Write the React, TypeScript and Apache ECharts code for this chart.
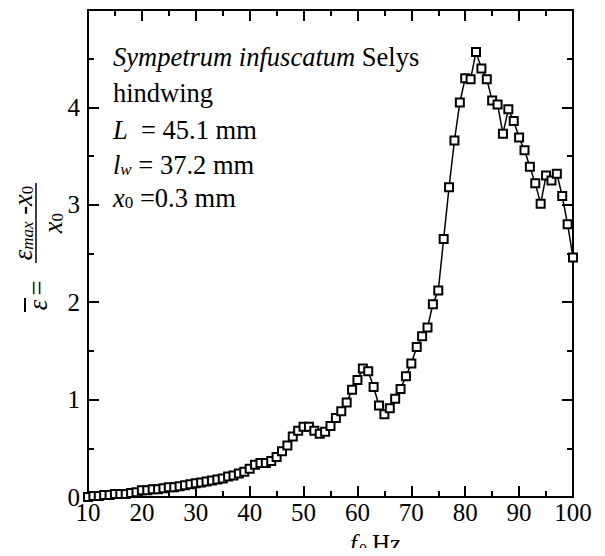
import React, { useEffect, useRef } from "react";
import * as echarts from "echarts";

const freqHz = [
  10, 11, 12, 13, 14, 15, 16, 17, 18, 19,
  20, 21, 22, 23, 24, 25, 26, 27, 28, 29,
  30, 31, 32, 33, 34, 35, 36, 37, 38, 39,
  40, 41, 42, 43, 44, 45, 46, 47, 48, 49,
  50, 51, 52, 53, 54, 55, 56, 57, 58, 59,
  60, 61, 62, 63, 64, 65, 66, 67, 68, 69,
  70, 71, 72, 73, 74, 75, 76, 77, 78, 79,
  80, 81, 82, 83, 84, 85, 86, 87, 88, 89,
  90, 91, 92, 93, 94, 95, 96, 97, 98, 99,
  100,
];

const epsBar = [
  0.0, 0.01, 0.01, 0.02, 0.02, 0.03, 0.03, 0.03, 0.04, 0.05,
  0.07, 0.07, 0.08, 0.08, 0.09, 0.1, 0.1, 0.11, 0.12, 0.13,
  0.14, 0.15, 0.16, 0.17, 0.18, 0.19, 0.21, 0.22, 0.24, 0.26,
  0.29, 0.33, 0.35, 0.35, 0.37, 0.41, 0.47, 0.53, 0.62, 0.68,
  0.72, 0.72, 0.68, 0.65, 0.67, 0.73, 0.81, 0.88, 0.97, 1.1,
  1.2, 1.32, 1.29, 1.13, 0.94, 0.85, 0.91, 1.01, 1.11, 1.24,
  1.37, 1.54, 1.65, 1.74, 1.98, 2.12, 2.65, 3.18, 3.66, 4.05,
  4.3, 4.29, 4.57, 4.4, 4.29, 4.07, 4.03, 3.73, 3.98, 3.86,
  3.69, 3.56, 3.39, 3.22, 3.01, 3.3, 3.25, 3.32, 3.09, 2.8,
  2.46,
];

const xTickLabels = ["10", "20", "30", "40", "50", "60", "70", "80", "90", "100"];
const yTickLabels = ["0", "1", "2", "3", "4"];

const FONT = "Liberation Serif";

export default function App() {
  const ref = useRef<HTMLDivElement>(null);

  useEffect(() => {
    if (!ref.current) return;
    const chart = echarts.init(ref.current, undefined, { renderer: "svg" });

    const data = freqHz.map((f, i) => [f, epsBar[i]]);

    const baseText = { fontFamily: FONT, fontSize: 26.5, fill: "#000" };
    const rich = {
      i: { fontFamily: FONT, fontSize: 26.5, fontStyle: "italic", lineHeight: 30, verticalAlign: "bottom" },
      n: { fontFamily: FONT, fontSize: 26.5, lineHeight: 30, verticalAlign: "bottom" },
      s: { fontFamily: FONT, fontSize: 17, lineHeight: 13, verticalAlign: "bottom" },
      si: { fontFamily: FONT, fontSize: 17, fontStyle: "italic", lineHeight: 13, verticalAlign: "bottom" },
    };

    const axisCommon = {
      axisLine: { show: true, onZero: false, lineStyle: { color: "#000", width: 2 } },
      axisTick: { show: true, inside: true, length: 11, lineStyle: { color: "#000", width: 2 } },
      minorTick: { show: true, splitNumber: 2, length: 6, lineStyle: { color: "#000", width: 2 } },
      splitLine: { show: false },
      minorSplitLine: { show: false },
    };

    const textAt = (x: number, y: number, text: string) => ({
      type: "text",
      x,
      y,
      style: { text, rich, ...baseText, align: "left", verticalAlign: "middle" },
    });

    const option = {
      animation: false,
      backgroundColor: "#fff",
      textStyle: { fontFamily: FONT, color: "#000" },
      grid: { left: 88, right: 32, top: 10, bottom: 59, containLabel: false },
      xAxis: [
        {
          type: "value",
          min: 10,
          max: 100,
          interval: 10,
          position: "bottom",
          ...axisCommon,
          axisLabel: {
            show: true,
            margin: 3,
            fontFamily: FONT,
            fontSize: 25,
            color: "#000",
            formatter: (v: number) => (xTickLabels.includes(String(v)) ? String(v) : ""),
          },
        },
        {
          type: "value",
          min: 10,
          max: 100,
          interval: 10,
          position: "top",
          ...axisCommon,
          axisLabel: { show: false },
        },
      ],
      yAxis: [
        {
          type: "value",
          min: 0,
          max: 5,
          interval: 1,
          position: "left",
          ...axisCommon,
          axisLabel: {
            show: true,
            margin: 8,
            fontFamily: FONT,
            fontSize: 25,
            color: "#000",
            formatter: (v: number) => (yTickLabels.includes(String(v)) ? String(v) : ""),
          },
        },
        {
          type: "value",
          min: 0,
          max: 5,
          interval: 1,
          position: "right",
          ...axisCommon,
          axisLabel: { show: false },
        },
      ],
      series: [
        {
          type: "line",
          data,
          xAxisIndex: 0,
          yAxisIndex: 0,
          clip: false,
          symbol: "rect",
          symbolSize: 8,
          showAllSymbol: true,
          itemStyle: { color: "#fff", borderColor: "#000", borderWidth: 2 },
          lineStyle: { color: "#000", width: 1.5 },
          emphasis: { disabled: true },
        },
      ],
      graphic: [
        textAt(113, 55, "{i|Sympetrum infuscatum} {n|Selys}"),
        textAt(113, 91, "{n|hindwing}"),
        textAt(113, 128, "{i|L} {n| = 45.1 mm}"),
        textAt(113, 163, "{i|l}{si|w}{n| = 37.2 mm}"),
        textAt(113, 196, "{i|x}{s|0}{n| =0.3 mm}"),
        { type: "text", x: 350, y: 543, style: { text: "f", ...baseText, fontSize: 25, fontStyle: "italic", verticalAlign: "middle" } },
        { type: "text", x: 359, y: 549, style: { text: "0", ...baseText, fontSize: 16, verticalAlign: "middle" } },
        { type: "text", x: 372, y: 543, style: { text: "Hz", ...baseText, fontSize: 25, verticalAlign: "middle" } },
        {
          type: "group",
          x: 36,
          y: 223,
          rotation: Math.PI / 2,
          children: [
            { type: "line", shape: { x1: -40, y1: 0, x2: 40, y2: 0 }, style: { stroke: "#000", lineWidth: 1.5 } },
            {
              type: "text",
              x: 0,
              y: 0,
              style: { text: "{i|ε}{si|max}{n| -}{i|x}{s|0}", rich, ...baseText, align: "center", verticalAlign: "bottom" },
            },
            {
              type: "text",
              x: 0,
              y: 0,
              style: { text: "{i|x}{s|0}", rich, ...baseText, align: "center", verticalAlign: "top" },
            },
            {
              type: "text",
              x: -65,
              y: 1,
              style: { text: "=", ...baseText, align: "center", verticalAlign: "middle" },
            },
            {
              type: "text",
              x: -82,
              y: 2,
              style: { text: "ε", ...baseText, fontStyle: "italic", align: "center", verticalAlign: "middle" },
            },
            { type: "line", shape: { x1: -89, y1: -11, x2: -75, y2: -11 }, style: { stroke: "#000", lineWidth: 2 } },
          ],
        },
      ],
    };

    chart.setOption(option as any);
    return () => chart.dispose();
  }, []);

  return <div ref={ref} style={{ width: 605, height: 556, margin: -8 }} />;
}
